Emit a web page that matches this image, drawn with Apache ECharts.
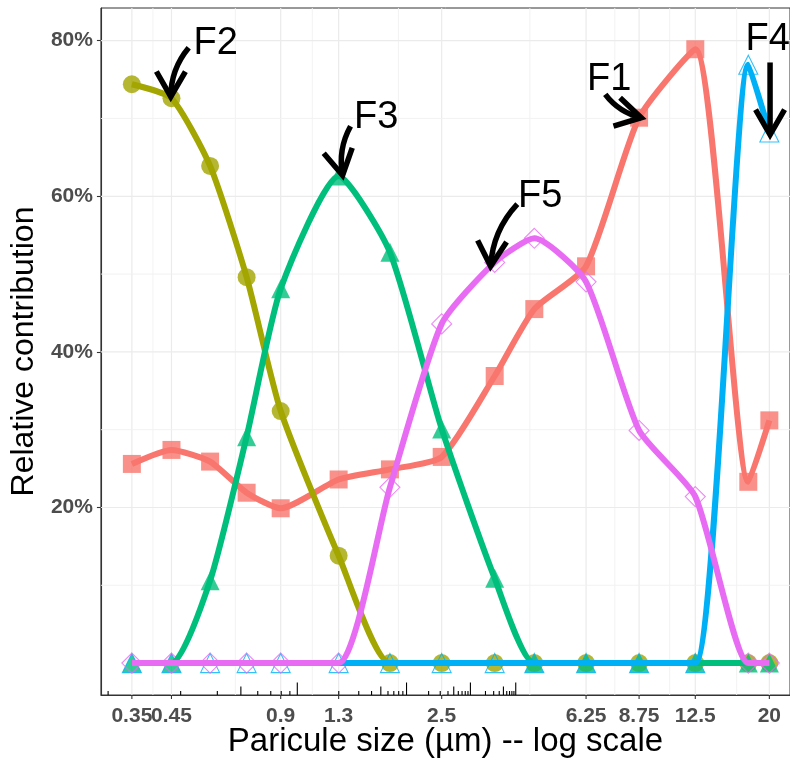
<!DOCTYPE html>
<html>
<head>
<meta charset="utf-8">
<script src="https://cdn.jsdelivr.net/npm/echarts@6/dist/echarts.min.js"></script>
<style>html,body{margin:0;padding:0;background:#fff;}#c{width:790px;height:763px;}</style>
</head>
<body>
<div id="c"></div>
<script>
// ---------- data ----------
const sizes = [0.35, 0.45, 0.575, 0.725, 0.9, 1.3, 1.8, 2.5, 3.5, 4.5, 6.25, 8.75, 12.5, 17.5, 20];
const F1 = [25.6, 27.4, 25.9, 21.9, 19.9, 23.6, 24.9, 26.5, 36.9, 45.5, 51.0, 70.1, 78.9, 23.3, 31.2];
const F2 = [74.4, 72.6, 63.9, 49.6, 32.4, 13.8, 0, 0, 0, 0, 0, 0, 0, 0, 0];
const F3 = [0, 0, 10.6, 29.1, 48.1, 62.6, 52.8, 30.1, 10.9, 0, 0, 0, 0, 0, 0];
const F4 = [0, 0, 0, 0, 0, 0, 0, 0, 0, 0, 0, 0, 0, 76.9, 68.2];
const F5 = [0, 0, 0, 0, 0, 0, 22.6, 43.6, 51.5, 54.6, 49.0, 29.9, 21.4, 0, 0];
const seriesNames = ['F1', 'F2', 'F3', 'F4', 'F5'];

const xBreaks = [0.35, 0.45, 0.9, 1.3, 2.5, 6.25, 8.75, 12.5, 20];
const xBreakLabels = ['0.35', '0.45', '0.9', '1.3', '2.5', '6.25', '8.75', '12.5', '20'];
const xMinorBreaks = [0.4, 0.675, 1.1, 1.9, 4.375, 7.5, 10.625, 16.25];
const yBreaks = [20, 40, 60, 80];
const yMinorBreaks = [10, 30, 50, 70];

// log ticks annotation (values where the tick marks fall), tier: 0 short, 1 mid, 2 long
const logTickValues = [0.301, 0.477, 0.602, 0.699, 0.778, 0.845, 0.903, 0.954, 1,
  1.301, 1.477, 1.602, 1.699, 1.778, 1.845, 1.903, 1.954, 2,
  2.301, 2.477, 2.602, 2.699, 2.778, 2.845, 2.903, 2.954, 3,
  3.301, 3.477, 3.602, 3.699, 3.778, 3.845, 3.903, 3.954, 4];
const logTickTier = [0,0,0,1,0,0,0,0,2, 0,0,0,1,0,0,0,0,2, 0,0,0,1,0,0,0,0,2, 0,0,0,1,0,0,0,0,2];

// annotations (data coordinates)
const annotLabels = ['F1', 'F2', 'F3', 'F4', 'F5'];
const annotTextPos = [[7.24, 75.0], [0.596, 79.6], [1.65, 70.1], [19.8, 80.1], [4.67, 60.0]];
const arrowFrom = [[7.06, 73.1], [0.502, 79.1], [1.402, 69.0], [20.09, 77.2], [4.04, 59.0]];
const arrowTo = [[8.87, 70.1], [0.448, 72.8], [1.333, 62.7], [20.09, 67.9], [3.41, 51.0]];
const arrowBend = [0.18, 0.18, 0.18, 0, 0.18];

// ---------- styles ----------
const colors = ['#F8766D', '#A3A500', '#00BF7D', '#00B0F6', '#E76BF3'];
const FONT = "'Liberation Sans', Arial, Helvetica, sans-serif";
const X_MIN = 0.2876, X_MAX = 22.8, Y_MIN = -4.1, Y_MAX = 84.2;

const allSeriesValues = [F1, F2, F3, F4, F5];
const symbolStyle = [
  { symbol: 'rect', size: 18, hollow: false },
  { symbol: 'circle', size: 18, hollow: false },
  { symbol: 'triangle', size: 19, hollow: false },
  { symbol: 'triangle', size: 19, hollow: true },
  { symbol: 'diamond', size: 20, hollow: true }
];

const chart = echarts.init(document.getElementById('c'), null, { renderer: 'canvas' });

const series = [];

// grid lines (vertical)
series.push({
  type: 'custom', name: 'vgrid', z: 1, silent: true, clip: false,
  data: xBreaks.map(v => [v, 0, 1]).concat(xMinorBreaks.map(v => [v, 0, 0])),
  encode: { x: 0, y: 1 },
  renderItem: function (params, api) {
    const cs = params.coordSys;
    const p = api.coord([api.value(0), 0]);
    const major = api.value(2) === 1;
    return {
      type: 'line',
      shape: { x1: p[0], y1: cs.y, x2: p[0], y2: cs.y + cs.height },
      style: { stroke: major ? '#EBEBEB' : '#F1F1F1', lineWidth: major ? 1.2 : 0.9 }
    };
  }
});
// grid lines (horizontal)
series.push({
  type: 'custom', name: 'hgrid', z: 1, silent: true, clip: false,
  data: yBreaks.map(v => [1, v, 1]).concat(yMinorBreaks.map(v => [1, v, 0])),
  encode: { x: 0, y: 1 },
  renderItem: function (params, api) {
    const cs = params.coordSys;
    const p = api.coord([1, api.value(1)]);
    const major = api.value(2) === 1;
    return {
      type: 'line',
      shape: { x1: cs.x, y1: p[1], x2: cs.x + cs.width, y2: p[1] },
      style: { stroke: major ? '#EBEBEB' : '#F1F1F1', lineWidth: major ? 1.2 : 0.9 }
    };
  }
});

// points (drawn beneath lines)
allSeriesValues.forEach((vals, i) => {
  const st = symbolStyle[i];
  series.push({
    type: 'scatter', name: seriesNames[i] + ' pts', z: 2,
    data: sizes.map((x, j) => [x, vals[j]]),
    symbol: st.symbol, symbolSize: st.size,
    itemStyle: st.hollow
      ? { color: 'rgba(255,255,255,0)', borderColor: colors[i], borderWidth: 1.1 }
      : { color: colors[i] },
    emphasis: { disabled: true }, silent: true
  });
});
// lines
allSeriesValues.forEach((vals, i) => {
  series.push({
    type: 'line', name: seriesNames[i], z: 3,
    data: sizes.map((x, j) => [x, vals[j]]),
    showSymbol: false, smooth: 0.2,
    lineStyle: { color: colors[i], width: 6 },
    emphasis: { disabled: true }, silent: true
  });
});

// x axis ticks + labels
series.push({
  type: 'custom', name: 'xlabels', z: 4, silent: true, clip: false,
  data: xBreaks.map(v => [v, 0]),
  encode: { x: 0, y: 1 },
  renderItem: function (params, api) {
    const cs = params.coordSys;
    const p = api.coord([api.value(0), 0]);
    const yb = cs.y + cs.height;
    return {
      type: 'group',
      children: [
        { type: 'line', shape: { x1: p[0], y1: yb, x2: p[0], y2: yb + 4 }, style: { stroke: '#333', lineWidth: 1.1 } },
        { type: 'text', x: p[0], y: yb + 21,
          style: { text: xBreakLabels[params.dataIndex], fill: '#4D4D4D', font: 'bold 21px ' + FONT, align: 'center', verticalAlign: 'middle' } }
      ]
    };
  }
});

// log ticks along bottom
series.push({
  type: 'custom', name: 'logticks', z: 4, silent: true, clip: false,
  data: logTickValues.map((v, i) => [v, 0, logTickTier[i]]),
  encode: { x: 0, y: 1 },
  renderItem: function (params, api) {
    const cs = params.coordSys;
    const p = api.coord([api.value(0), 0]);
    const yb = cs.y + cs.height;
    const len = [4, 8.5, 12.5][api.value(2)];
    return {
      type: 'line',
      shape: { x1: p[0], y1: yb, x2: p[0], y2: yb - len },
      style: { stroke: '#000', lineWidth: 1.1 }
    };
  }
});

// annotations: curved arrows + labels
series.push({
  type: 'custom', name: 'annotations', z: 6, silent: true, clip: false,
  data: annotLabels.map((l, i) => [arrowFrom[i][0], arrowFrom[i][1], arrowTo[i][0], arrowTo[i][1], annotTextPos[i][0], annotTextPos[i][1]]),
  encode: { x: [0, 2, 4], y: [1, 3, 5] },
  renderItem: function (params, api) {
    const i = params.dataIndex;
    const s = api.coord([api.value(0), api.value(1)]);
    const e = api.coord([api.value(2), api.value(3)]);
    const t = api.coord([api.value(4), api.value(5)]);
    const k = arrowBend[i];
    const dx = e[0] - s[0], dy = e[1] - s[1];
    const c = [(s[0] + e[0]) / 2 - dy * k, (s[1] + e[1]) / 2 + dx * k];
    let tx = e[0] - c[0], ty = e[1] - c[1];
    const tl = Math.sqrt(tx * tx + ty * ty) || 1;
    tx /= tl; ty /= tl;
    const L = 29, a = Math.PI / 6;
    const bx = -tx, by = -ty;
    const arm = (ang) => [e[0] + L * (bx * Math.cos(ang) - by * Math.sin(ang)), e[1] + L * (bx * Math.sin(ang) + by * Math.cos(ang))];
    const a1 = arm(a), a2 = arm(-a);
    return {
      type: 'group',
      children: [
        { type: 'bezierCurve', shape: { x1: s[0], y1: s[1], x2: e[0], y2: e[1], cpx1: c[0], cpy1: c[1] },
          style: { stroke: '#000', lineWidth: 5.5, fill: null, lineCap: 'butt' } },
        { type: 'polyline', shape: { points: [a1, e, a2] },
          style: { stroke: '#000', lineWidth: 5.5, fill: null, lineJoin: 'miter', lineCap: 'butt' } },
        { type: 'text', x: t[0], y: t[1],
          style: { text: annotLabels[i], fill: '#000', font: '38px ' + FONT, align: 'center', verticalAlign: 'middle' } }
      ]
    };
  }
});

chart.setOption({
  backgroundColor: '#ffffff',
  animation: false,
  textStyle: { fontFamily: FONT },
  grid: { left: 100, right: -1, top: 8, bottom: 67, show: true, borderColor: '#333', borderWidth: 1, backgroundColor: '#fff' },
  xAxis: {
    type: 'log', logBase: 10, min: X_MIN, max: X_MAX,
    axisLine: { show: true, onZero: false, lineStyle: { color: '#333', width: 1.1 } },
    axisTick: { show: false }, axisLabel: { show: false },
    splitLine: { show: false }, minorTick: { show: false }, minorSplitLine: { show: false },
    name: 'Paricule size (µm) -- log scale', nameLocation: 'middle', nameGap: 30,
    nameTextStyle: { fontSize: 33, color: '#000', fontFamily: FONT }
  },
  yAxis: {
    type: 'value', min: Y_MIN, max: Y_MAX,
    axisLine: { show: true, lineStyle: { color: '#333', width: 1.1 } },
    axisTick: { show: true, customValues: yBreaks, length: 4, lineStyle: { color: '#333', width: 1.1 } },
    axisLabel: { customValues: yBreaks, formatter: v => v + '%', color: '#4D4D4D', fontWeight: 'bold', fontSize: 21, margin: 8, fontFamily: FONT },
    splitLine: { show: false },
    name: 'Relative contribution', nameLocation: 'middle', nameGap: 59,
    nameTextStyle: { fontSize: 32, color: '#000', fontFamily: FONT }
  },
  series: series
});
</script>
</body>
</html>
